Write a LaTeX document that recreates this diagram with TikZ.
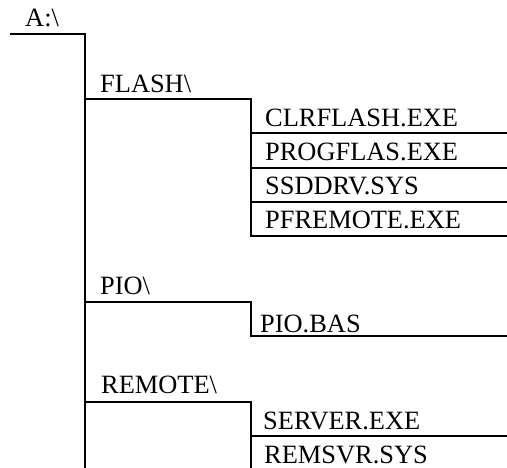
\documentclass[tikz,border=0pt]{standalone}
\usepackage{fontspec}
\setmainfont{Liberation Serif}
\begin{document}
\begin{tikzpicture}[x=1pt,y=-1pt,
  lbl/.style={anchor=base west,inner sep=0pt,font=\fontsize{26.4}{30}\selectfont},
  wire/.style={line width=2pt,line join=miter}]
\useasboundingbox (0,0) rectangle (507,468);
% labels
\node[lbl] (root) at (25,27) {A:\textbackslash};
\node[lbl] (flash) at (100,93) {FLASH\textbackslash};
\node[lbl] (clr) at (265,126.5) {CLRFLASH.EXE};
\node[lbl] (prog) at (265,161) {PROGFLAS.EXE};
\node[lbl] (ssd) at (265,195) {SSDDRV.SYS};
\node[lbl] (pfr) at (265,228.5) {PFREMOTE.EXE};
\node[lbl] (pio) at (100,295) {PIO\textbackslash};
\node[lbl] (piobas) at (260,332.5) {PIO.BAS};
\node[lbl] (remote) at (101,393) {REMOTE\textbackslash};
\node[lbl] (server) at (263,429) {SERVER.EXE};
\node[lbl] (remsvr) at (264,464) {REMSVR.SYS};
% coordinates
\coordinate (r0) at (10,34);
\coordinate (r1) at (85,34);
\coordinate (rend) at (85,468);
\coordinate (f1) at (251,99.5);
\coordinate (fend) at (251,236);
\coordinate (p1) at (251,302);
\coordinate (pend) at (251,336);
\coordinate (m1) at (251,402);
\coordinate (mend) at (251,468);
% tree lines
\draw[wire] (r0) -- (r1) -- (rend);
\draw[wire] (r1 |- f1) -- (f1) -- (fend) -- (507,236);
\draw[wire] (f1 |- 0,133.5) -- (507,133.5);
\draw[wire] (f1 |- 0,168) -- (507,168);
\draw[wire] (f1 |- 0,202) -- (507,202);
\draw[wire] (r1 |- p1) -- (p1) -- (pend) -- (507,336);
\draw[wire] (r1 |- m1) -- (m1) -- (mend);
\draw[wire] (m1 |- 0,435.5) -- (507,435.5);
\end{tikzpicture}
\end{document}
